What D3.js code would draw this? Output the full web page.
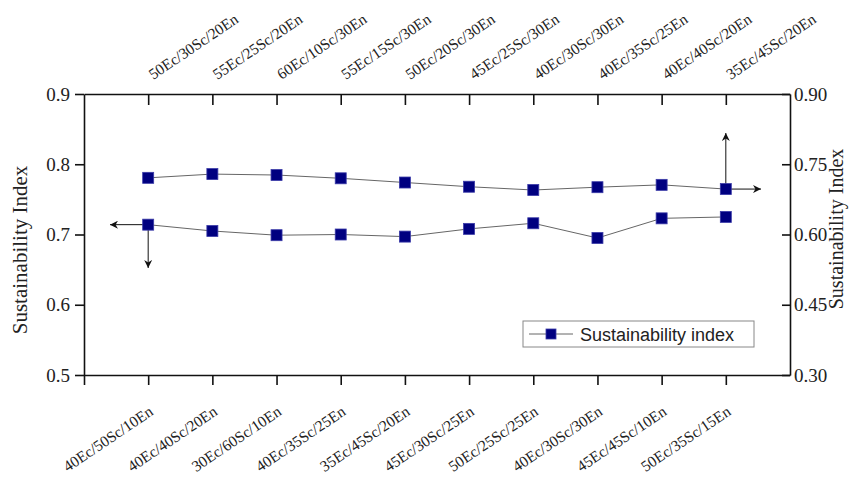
<!DOCTYPE html>
<html>
<head>
<meta charset="utf-8">
<script src="https://cdn.jsdelivr.net/npm/d3@7"></script>
<style>
  body { margin: 0; background: #fff; }
  svg { display: block; }
</style>
</head>
<body>
<div id="chart"></div>
<script>
// categories on the bottom axis (lower series, left axis)
let bottomLabels = ["40Ec/50Sc/10En", "40Ec/40Sc/20En", "30Ec/60Sc/10En", "40Ec/35Sc/25En",
  "35Ec/45Sc/20En", "45Ec/30Sc/25En", "50Ec/25Sc/25En", "40Ec/30Sc/30En",
  "45Ec/45Sc/10En", "50Ec/35Sc/15En"];
// categories on the top axis (upper series, right axis)
let topLabels = ["50Ec/30Sc/20En", "55Ec/25Sc/20En", "60Ec/10Sc/30En", "55Ec/15Sc/30En",
  "50Ec/20Sc/30En", "45Ec/25Sc/30En", "40Ec/30Sc/30En", "40Ec/35Sc/25En",
  "40Ec/40Sc/20En", "35Ec/45Sc/20En"];

// values
let lowerValues = [0.714, 0.705, 0.699, 0.700, 0.697, 0.708, 0.716, 0.695, 0.723, 0.725];
let upperValues = [0.721, 0.729, 0.727, 0.720, 0.711, 0.702, 0.695, 0.701, 0.706, 0.697];

let leftTicks = [0.5, 0.6, 0.7, 0.8, 0.9];
let rightTicks = [0.30, 0.45, 0.60, 0.75, 0.90];

let width = 849, height = 477;
let plotL = 84, plotR = 790, plotT = 94, plotB = 375;

let svg = d3.select("#chart").append("svg")
  .attr("width", width)
  .attr("height", height);

// scales
let xScale = d3.scaleLinear().domain([0, 11]).range([plotL, plotR]);
let yLeft = d3.scaleLinear().domain([0.5, 0.9]).range([plotB, plotT]);
let yRight = d3.scaleLinear().domain([0.3, 0.9]).range([plotB, plotT]);

let serif = "'Liberation Serif', 'Times New Roman', serif";

// bottom axis
let xBottom = d3.axisBottom(xScale).tickValues(d3.range(0, 11)).tickFormat("").tickSizeInner(10).tickSizeOuter(0);
svg.append("g").attr("transform", `translate(0,${plotB})`).call(xBottom);
// top axis, ticks inward
let xTop = d3.axisBottom(xScale).tickValues(d3.range(1, 11)).tickFormat("").tickSizeInner(11).tickSizeOuter(0);
svg.append("g").attr("transform", `translate(0,${plotT})`).call(xTop);
// left axis
let yAxisL = d3.axisLeft(yLeft).tickValues(leftTicks).tickFormat(d3.format(".1f")).tickSizeInner(9).tickSizeOuter(0).tickPadding(5);
svg.append("g").attr("transform", `translate(${plotL},0)`).call(yAxisL);
// right axis, ticks inward
let yAxisR = d3.axisLeft(yRight).tickValues(rightTicks).tickFormat(d3.format(".2f")).tickSizeInner(8).tickSizeOuter(0);
let gR = svg.append("g").attr("transform", `translate(${plotR},0)`).call(yAxisR);
gR.selectAll("text").attr("text-anchor", "start").attr("x", 4);

svg.selectAll(".domain").attr("stroke", "#111").attr("stroke-width", 1.6);
svg.selectAll(".tick line").attr("stroke", "#111").attr("stroke-width", 1.6);
svg.selectAll(".tick text").attr("font-family", serif).attr("font-size", 19).attr("fill", "#222");

// rotated category labels
svg.append("g").selectAll("text")
  .data(bottomLabels)
  .enter()
  .append("text")
  .attr("transform", (d, i) => `translate(${xScale(i + 1) + 6},${414}) rotate(-34)`)
  .attr("text-anchor", "end")
  .attr("font-family", serif)
  .attr("font-size", 15.5)
  .attr("fill", "#222")
  .text(d => d);

svg.append("g").selectAll("text")
  .data(topLabels)
  .enter()
  .append("text")
  .attr("transform", (d, i) => `translate(${xScale(i + 1) + 5},${80}) rotate(-34)`)
  .attr("text-anchor", "start")
  .attr("font-family", serif)
  .attr("font-size", 15.5)
  .attr("fill", "#222")
  .text(d => d);

// axis titles
svg.append("text")
  .attr("transform", `translate(27,250) rotate(-90)`)
  .attr("text-anchor", "middle")
  .attr("font-family", serif)
  .attr("font-size", 21)
  .attr("fill", "#222")
  .text("Sustainability Index");

svg.append("text")
  .attr("transform", `translate(843,229) rotate(-90)`)
  .attr("text-anchor", "middle")
  .attr("font-family", serif)
  .attr("font-size", 20)
  .attr("fill", "#222")
  .text("Sustainability Index");

// arrow marker
svg.append("defs").append("marker")
  .attr("id", "arrow")
  .attr("viewBox", "0 0 10 10")
  .attr("refX", 10).attr("refY", 5)
  .attr("markerWidth", 12).attr("markerHeight", 8)
  .attr("markerUnits", "userSpaceOnUse")
  .attr("orient", "auto")
  .append("path")
  .attr("d", "M0,0 L10,5 L0,10 L3,5 Z")
  .attr("fill", "#111");

// lines
let lineL = d3.line().x((d, i) => xScale(i + 1)).y(d => yLeft(d));
let lineR = d3.line().x((d, i) => xScale(i + 1)).y(d => yRight(d));

svg.append("path").attr("d", lineL(lowerValues)).attr("fill", "none").attr("stroke", "#666").attr("stroke-width", 1);
svg.append("path").attr("d", lineR(upperValues)).attr("fill", "none").attr("stroke", "#666").attr("stroke-width", 1);

// arrows showing which axis each series uses
let p0 = [xScale(1), yLeft(lowerValues[0])];
let p1 = [xScale(10), yRight(upperValues[9])];
let arrows = [
  [p0, [110, p0[1]]],
  [p0, [p0[0], 268]],
  [p1, [761, p1[1]]],
  [p1, [p1[0], 133]]
];
svg.append("g").selectAll("line")
  .data(arrows)
  .enter()
  .append("line")
  .attr("x1", d => d[0][0]).attr("y1", d => d[0][1])
  .attr("x2", d => d[1][0]).attr("y2", d => d[1][1])
  .attr("stroke", "#111")
  .attr("stroke-width", 1)
  .attr("marker-end", "url(#arrow)");

// square markers
let sq = 11;
function drawSquares(vals, yS) {
  svg.append("g").selectAll("rect")
    .data(vals)
    .enter()
    .append("rect")
    .attr("x", (d, i) => xScale(i + 1) - sq / 2)
    .attr("y", d => yS(d) - sq / 2)
    .attr("width", sq).attr("height", sq)
    .attr("fill", "#000080")
    .attr("stroke", "#3b3ba8")
    .attr("stroke-width", 0.8);
}
drawSquares(lowerValues, yLeft);
drawSquares(upperValues, yRight);

// legend
let lg = svg.append("g");
lg.append("rect").attr("x", 523).attr("y", 321).attr("width", 231).attr("height", 26)
  .attr("fill", "#fff").attr("stroke", "#888").attr("stroke-width", 1);
lg.append("line").attr("x1", 529).attr("x2", 573).attr("y1", 334).attr("y2", 334)
  .attr("stroke", "#666").attr("stroke-width", 1);
lg.append("rect").attr("x", 546).attr("y", 329).attr("width", 10).attr("height", 10)
  .attr("fill", "#000080").attr("stroke", "#3b3ba8").attr("stroke-width", 0.8);
lg.append("text").attr("x", 580).attr("y", 341)
  .attr("font-family", "'Liberation Sans', Arial, sans-serif")
  .attr("font-size", 18)
  .attr("fill", "#222")
  .text("Sustainability index");
</script>
</body>
</html>
